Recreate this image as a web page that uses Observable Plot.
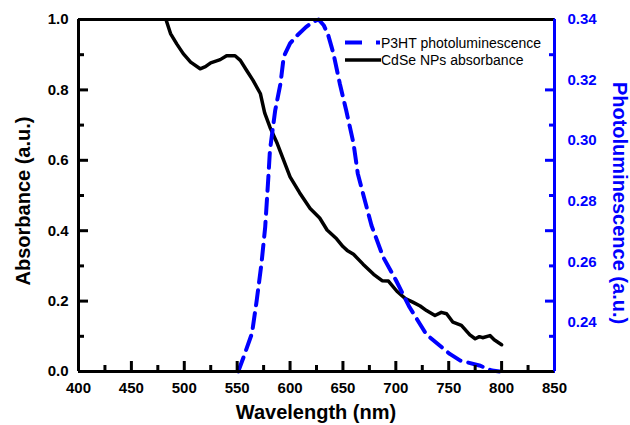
<!DOCTYPE html>
<html>
<head>
<meta charset="utf-8">
<script src="https://cdn.jsdelivr.net/npm/d3@7"></script>
<script src="https://cdn.jsdelivr.net/npm/@observablehq/plot@0.6"></script>
<style>
  html, body { margin: 0; padding: 0; background: #fff; }
  #wrap { position: relative; width: 630px; height: 425px; font-family: "Liberation Sans", Arial, sans-serif; }
  #overlay { position: absolute; left: 0; top: 0; pointer-events: none; }
</style>
</head>
<body>
<div id="wrap"></div>
<script>
// ---- Data ----
const absWavelength = [483, 487, 493, 499, 506, 515, 520, 525, 534, 540, 548, 553, 559, 565, 572, 576, 581, 588, 594, 600, 609, 619, 628, 635, 644, 650, 654, 660, 669, 679, 687, 693, 701, 709, 716, 723, 729, 737, 743, 748, 754, 762, 770, 775, 779, 782, 789, 793, 800];
const absorbance    = [0.997, 0.96, 0.93, 0.903, 0.879, 0.86, 0.866, 0.877, 0.886, 0.897, 0.897, 0.884, 0.855, 0.827, 0.789, 0.735, 0.694, 0.647, 0.6, 0.553, 0.508, 0.463, 0.436, 0.402, 0.377, 0.355, 0.344, 0.333, 0.305, 0.276, 0.258, 0.257, 0.228, 0.207, 0.197, 0.186, 0.173, 0.159, 0.168, 0.164, 0.14, 0.131, 0.104, 0.093, 0.099, 0.096, 0.102, 0.09, 0.076];

const plWavelength = [551, 556, 564, 568.5, 573, 576.5, 579.5, 581, 586, 591, 594, 600, 606, 615, 622, 627, 632, 636, 641, 647, 653, 660, 664, 669, 677, 688, 700, 713, 729, 751, 761, 779, 791, 798];
const photoluminescence = [0.2238, 0.2285, 0.2364, 0.2473, 0.2595, 0.2715, 0.288, 0.2969, 0.3101, 0.3189, 0.3277, 0.3321, 0.3345, 0.3375, 0.3393, 0.34, 0.338, 0.3349, 0.3288, 0.3189, 0.3101, 0.2991, 0.2892, 0.2825, 0.272, 0.2616, 0.254, 0.245, 0.236, 0.2296, 0.2274, 0.2258, 0.2241, 0.2238];

const xTicks = [400, 450, 500, 550, 600, 650, 700, 750, 800, 850];
const xMinorTicks = [425, 475, 525, 575, 625, 675, 725, 775, 825];
const absTicks = [0, 0.2, 0.4, 0.6, 0.8, 1.0];
const absMinorTicks = [0.1, 0.3, 0.5, 0.7, 0.9];
const plTicks = [0.24, 0.26, 0.28, 0.30, 0.32, 0.34];
const plDomain = [0.2238, 0.34];

const xLabel = "Wavelength (nm)";
const yLabel = "Absorbance (a.u.)";
const y2Label = "Photoluminescence (a.u.)";
const seriesNames = ["P3HT photoluminescence", "CdSe NPs absorbance"];

// ---- Build tables ----
const absData = absWavelength.map((w, i) => ({w, v: absorbance[i]}));
const toY = (p) => (p - plDomain[0]) / (plDomain[1] - plDomain[0]);
const fromY = (y) => plDomain[0] + y * (plDomain[1] - plDomain[0]);
const plData = plWavelength.map((w, i) => ({w, v: toY(photoluminescence[i])}));

const BLUE = "#0000ff";
const tickFont = {fontSize: 15, fontWeight: "bold"};
const W = 630, H = 425, ML = 78, MR = 76, MT = 19, MB = 54;
const MAJ = 10, MIN = 6, TW = 3;

const chart = Plot.plot({
  width: W,
  height: H,
  marginLeft: ML,
  marginRight: MR,
  marginTop: MT,
  marginBottom: MB,
  style: {fontFamily: "'Liberation Sans', Arial, sans-serif"},
  x: {domain: [400, 850]},
  y: {domain: [0, 1]},
  marks: [
    // data
    Plot.line(absData, {x: "w", y: "v", stroke: "black", strokeWidth: 3.5}),
    Plot.line(plData, {x: "w", y: "v", stroke: BLUE, strokeWidth: 4, strokeDasharray: "15,8"}),
    // inward ticks: bottom
    Plot.axisX(xTicks, {anchor: "bottom", tickSize: MAJ, dy: -MAJ, stroke: "black", strokeWidth: TW, fill: "none", label: null}),
    Plot.axisX(xMinorTicks, {anchor: "bottom", tickSize: MIN, dy: -MIN, stroke: "black", strokeWidth: TW, fill: "none", label: null}),
    // inward ticks: left
    Plot.axisY(absTicks, {anchor: "left", tickSize: MAJ, dx: MAJ, stroke: "black", strokeWidth: TW, fill: "none", label: null}),
    Plot.axisY(absMinorTicks, {anchor: "left", tickSize: MIN, dx: MIN, stroke: "black", strokeWidth: TW, fill: "none", label: null}),
    // inward ticks: right (same positions as the left axis)
    Plot.axisY(absTicks, {anchor: "right", tickSize: MAJ, dx: -MAJ, stroke: BLUE, strokeWidth: TW, fill: "none", label: null}),
    Plot.axisY(absMinorTicks, {anchor: "right", tickSize: MIN, dx: -MIN, stroke: BLUE, strokeWidth: TW, fill: "none", label: null}),
    // tick labels
    Plot.axisX(xTicks, {anchor: "bottom", tickSize: 0, tickPadding: 11, ...tickFont, fill: "black", label: null}),
    Plot.axisY(absTicks, {anchor: "left", tickSize: 0, tickPadding: 10, tickFormat: d3.format(".1f"), ...tickFont, fill: "black", label: null}),
    Plot.axisY(plTicks.map(toY), {anchor: "right", tickSize: 0, tickPadding: 13, tickFormat: (d) => fromY(d).toFixed(2), ...tickFont, fill: BLUE, label: null}),
    // frame
    Plot.ruleY([1], {stroke: "black", strokeWidth: 3}),
    Plot.ruleY([0], {stroke: "black", strokeWidth: 3}),
    Plot.ruleX([400], {stroke: "black", strokeWidth: 3}),
    Plot.ruleX([850], {stroke: BLUE, strokeWidth: 3})
  ]
});

const wrap = document.getElementById("wrap");
wrap.appendChild(chart);

// ---- Titles and legend as an overlay ----
const ns = "http://www.w3.org/2000/svg";
const ov = document.createElementNS(ns, "svg");
ov.setAttribute("id", "overlay");
ov.setAttribute("width", W);
ov.setAttribute("height", H);
ov.style.fontFamily = "'Liberation Sans', Arial, sans-serif";
function txt(s, attrs) {
  const t = document.createElementNS(ns, "text");
  for (const k in attrs) t.setAttribute(k, attrs[k]);
  t.textContent = s;
  ov.appendChild(t);
  return t;
}
function ln(attrs) {
  const l = document.createElementNS(ns, "line");
  for (const k in attrs) l.setAttribute(k, attrs[k]);
  ov.appendChild(l);
}
txt(xLabel, {x: 316, y: 419, "text-anchor": "middle", "font-size": 20, "font-weight": "bold", fill: "black"});
txt(yLabel, {transform: "translate(30,201) rotate(-90)", "text-anchor": "middle", "font-size": 20, "font-weight": "bold", fill: "black"});
txt(y2Label, {transform: "translate(613,203) rotate(90)", "text-anchor": "middle", "font-size": 20, "font-weight": "bold", fill: BLUE});

// legend
ln({x1: 345, x2: 380, y1: 42.5, y2: 42.5, stroke: BLUE, "stroke-width": 4, "stroke-dasharray": "17,14"});
txt(seriesNames[0], {x: 381, y: 47.5, "font-size": 14, fill: "black"});
ln({x1: 345, x2: 381, y1: 60, y2: 60, stroke: "black", "stroke-width": 3.5});
txt(seriesNames[1], {x: 381, y: 65, "font-size": 14, fill: "black"});
wrap.appendChild(ov);
</script>
</body>
</html>
